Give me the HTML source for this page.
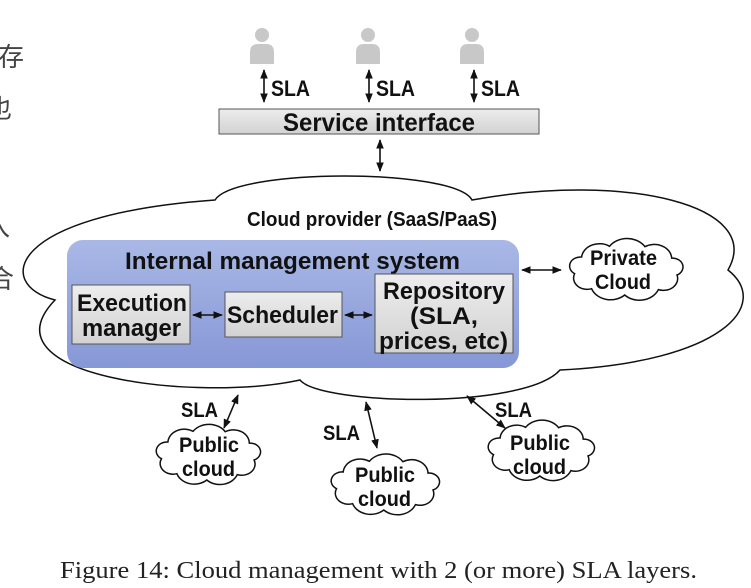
<!DOCTYPE html>
<html><head><meta charset="utf-8"><style>
html,body{margin:0;padding:0;background:#fff;width:751px;height:588px;overflow:hidden}
svg{display:block}
.b{font-family:"Liberation Sans",sans-serif;font-weight:bold;fill:#111}
</style></head><body>
<svg id="s" width="751" height="588" viewBox="0 0 751 588" xmlns="http://www.w3.org/2000/svg">
<defs>
<linearGradient id="g" x1="0" y1="0" x2="0" y2="1"><stop offset="0" stop-color="#ededed"/><stop offset="1" stop-color="#d2d2d2"/></linearGradient>
<linearGradient id="bl" x1="0" y1="0" x2="0" y2="1"><stop offset="0" stop-color="#a9b8e6"/><stop offset="1" stop-color="#8697d6"/></linearGradient>
<marker id="a" viewBox="0 0 10 10" refX="9" refY="5" markerWidth="6" markerHeight="6" orient="auto-start-reverse"><path d="M0,1 L10,5 L0,9 z" fill="#111"/></marker>
</defs>
<g font-family="Liberation Sans, Noto Sans CJK SC, sans-serif" font-size="26" fill="#444">
<text x="-2" y="66">存</text><text x="-14" y="118">也</text><text x="-16" y="236">入</text><text x="-12" y="288">合</text>
</g>
<g fill="#c8c8c8" id="ppl"></g>
<g stroke="#111" stroke-width="1.6" marker-start="url(#a)" marker-end="url(#a)">
<line x1="264" y1="70" x2="264" y2="102"/><line x1="369" y1="70" x2="369" y2="102"/><line x1="474" y1="70" x2="474" y2="102"/>
<line x1="380" y1="140" x2="380" y2="171"/>
</g>
<g class="b" font-size="22"><text x="271" y="96" textLength="39" lengthAdjust="spacingAndGlyphs">SLA</text><text x="376" y="96" textLength="39" lengthAdjust="spacingAndGlyphs">SLA</text><text x="481" y="96" textLength="39" lengthAdjust="spacingAndGlyphs">SLA</text></g>
<rect x="219" y="109" width="320" height="25" fill="url(#g)" stroke="#555"/>
<text x="283" y="131" class="b" font-size="25" textLength="192" lengthAdjust="spacingAndGlyphs">Service interface</text>
<path d="M55 300 C-5 285,5 215,215 200 C235 168,455 168,472 200 C625 172,765 205,728 270 C772 305,722 362,560 370 C525 410,320 405,300 380 C200 402,-20 378,55 300 Z" fill="#fff" stroke="#111" stroke-width="1.5"/>
<text x="247" y="226" class="b" font-size="20" textLength="250" lengthAdjust="spacingAndGlyphs">Cloud provider (SaaS/PaaS)</text>
<rect x="67" y="240" width="452" height="128" rx="16" fill="url(#bl)"/>
<text x="125" y="269" class="b" font-size="24" textLength="335" lengthAdjust="spacingAndGlyphs">Internal management system</text>
<rect x="72" y="285" width="118" height="59" fill="url(#g)" stroke="#555"/>
<text x="77" y="311" class="b" font-size="24" textLength="110" lengthAdjust="spacingAndGlyphs">Execution</text>
<text x="82" y="336" class="b" font-size="24" textLength="99" lengthAdjust="spacingAndGlyphs">manager</text>
<rect x="225" y="292" width="117" height="45" fill="url(#g)" stroke="#555"/>
<text x="227" y="323" class="b" font-size="24" textLength="111" lengthAdjust="spacingAndGlyphs">Scheduler</text>
<rect x="375" y="274" width="138" height="79" fill="url(#g)" stroke="#555"/>
<text x="383" y="299" class="b" font-size="24" textLength="122" lengthAdjust="spacingAndGlyphs">Repository</text>
<text x="410" y="324" class="b" font-size="24" textLength="68" lengthAdjust="spacingAndGlyphs">(SLA,</text>
<text x="379" y="349" class="b" font-size="24" textLength="129" lengthAdjust="spacingAndGlyphs">prices, etc)</text>
<g stroke="#111" stroke-width="1.6" marker-start="url(#a)" marker-end="url(#a)">
<line x1="193" y1="315" x2="222" y2="315"/><line x1="345" y1="315" x2="372" y2="315"/>
<line x1="522" y1="270" x2="561" y2="270"/>
<line x1="238" y1="395" x2="224" y2="428"/>
<line x1="366" y1="402" x2="377" y2="448"/>
<line x1="467" y1="396" x2="505" y2="428"/>
</g>
<g id="sc" fill="#fff" stroke="#111" stroke-width="1.5"></g>
<g class="b" font-size="21">
<text x="590" y="265" textLength="67" lengthAdjust="spacingAndGlyphs">Private</text><text x="595" y="289" textLength="56" lengthAdjust="spacingAndGlyphs">Cloud</text>
<text x="179" y="452" textLength="60" lengthAdjust="spacingAndGlyphs">Public</text><text x="182" y="476" textLength="53" lengthAdjust="spacingAndGlyphs">cloud</text>
<text x="355" y="482" textLength="60" lengthAdjust="spacingAndGlyphs">Public</text><text x="358" y="506" textLength="53" lengthAdjust="spacingAndGlyphs">cloud</text>
<text x="510" y="450" textLength="60" lengthAdjust="spacingAndGlyphs">Public</text><text x="513" y="474" textLength="53" lengthAdjust="spacingAndGlyphs">cloud</text>
<text x="181" y="417" textLength="37" lengthAdjust="spacingAndGlyphs">SLA</text>
<text x="323" y="440" textLength="37" lengthAdjust="spacingAndGlyphs">SLA</text>
<text x="495" y="417" textLength="37" lengthAdjust="spacingAndGlyphs">SLA</text>
</g>
<text x="60" y="578" font-family="Liberation Serif, serif" font-size="24" fill="#222" textLength="637" lengthAdjust="spacingAndGlyphs">Figure 14: Cloud management with 2 (or more) SLA layers.</text>
</svg>
<script>
var ns="http://www.w3.org/2000/svg";
var p=document.getElementById("ppl");
[262,368,472].forEach(function(x){
 var c=document.createElementNS(ns,"circle");c.setAttribute("cx",x);c.setAttribute("cy",35);c.setAttribute("r",7);p.appendChild(c);
 var r=document.createElementNS(ns,"path");r.setAttribute("d","M"+(x-12)+" 64 L"+(x-12)+" 52 Q"+(x-12)+" 44 "+(x-4)+" 44 L"+(x+4)+" 44 Q"+(x+12)+" 44 "+(x+12)+" 52 L"+(x+12)+" 64 Z");p.appendChild(r);
});
function cloud(cx,cy,rx,ry,n){
 var d="",pts=[];
 for(var i=0;i<n;i++){var t=i/n*2*Math.PI+0.2;pts.push([cx+rx*Math.cos(t),cy+ry*Math.sin(t)]);}
 d="M"+pts[0][0].toFixed(1)+" "+pts[0][1].toFixed(1);
 for(var i=1;i<=n;i++){var q=pts[i%n],pr=pts[i-1];var dx=q[0]-pr[0],dy=q[1]-pr[1];var L=Math.sqrt(dx*dx+dy*dy);
  d+=" A"+(L*0.6).toFixed(1)+" "+(L*0.5).toFixed(1)+" 0 0 1 "+q[0].toFixed(1)+" "+q[1].toFixed(1);}
 var e=document.createElementNS(ns,"path");e.setAttribute("d",d+"Z");document.getElementById("sc").appendChild(e);
}
cloud(626,270,52,25,9);cloud(208,455,47,25,9);cloud(385,485,49,25,9);cloud(541,451,48,25,9);
</script>
</body></html>
